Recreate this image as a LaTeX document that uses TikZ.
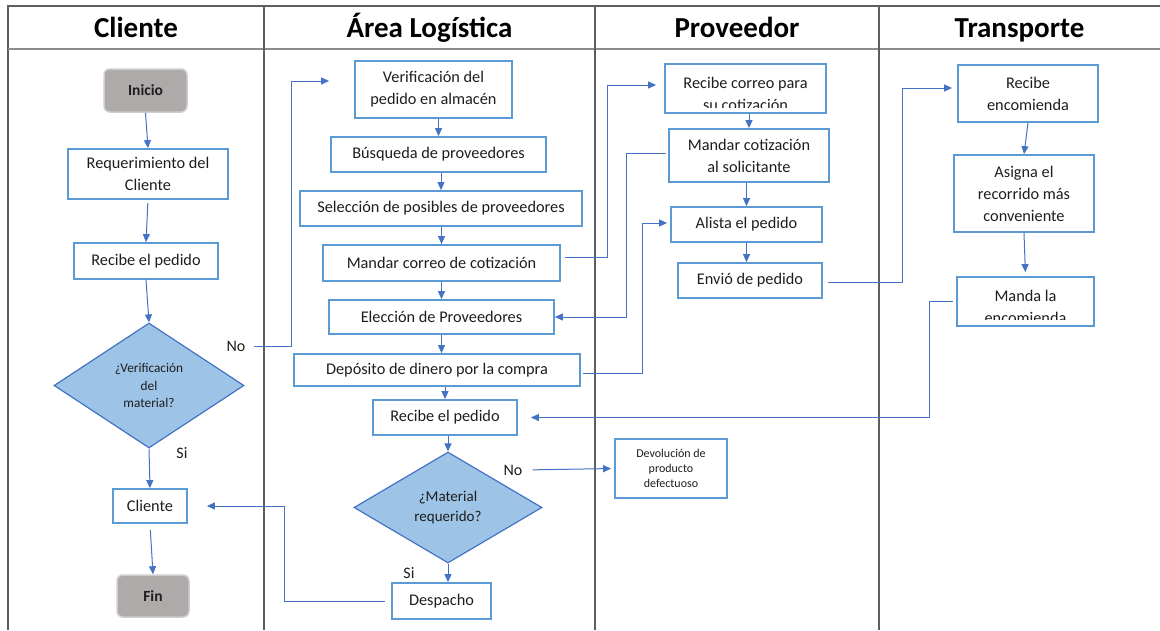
\documentclass[tikz,border=0pt]{standalone}
\usepackage{fontspec}
\setmainfont{Carlito}
\usetikzlibrary{shapes.geometric,arrows.meta}
\definecolor{boxblue}{HTML}{5B9BD5}
\definecolor{lineblue}{HTML}{4472C4}
\definecolor{decfill}{HTML}{9DC3E6}
\definecolor{termfill}{HTML}{AEAAAA}
\definecolor{termline}{HTML}{CFCDCD}
\definecolor{txt}{HTML}{1E1E1E}
\definecolor{rule}{HTML}{5E5E5E}
\definecolor{headrule}{HTML}{8C8C8C}

\begin{document}
\begin{tikzpicture}[x=1pt,y=-1pt,
  font=\fontsize{16.3}{22}\selectfont, text=txt,
  wh/.style 2 args={minimum width=#1pt, minimum height=#2pt},
  box/.style={draw=boxblue, line width=1.8pt, fill=white, align=center, inner sep=0pt},
  term/.style={draw=termline, line width=1.5pt, fill=termfill, rounded corners=6pt,
    font=\fontsize{15.5}{18}\selectfont\bfseries, inner sep=0pt},
  dec/.style={diamond, draw=lineblue, line width=1.2pt, fill=decfill, align=center, inner sep=0pt},
  arr/.style={draw=lineblue, line width=1pt, -{Triangle[length=8pt,width=7pt]}},
  head/.style={font=\fontsize{29}{32}\selectfont\bfseries, text=black, anchor=base, inner sep=0pt},
  lab/.style={font=\fontsize{16}{18}\selectfont, inner sep=0pt},
  cliptext/.style={align=center, inner sep=0pt},
]
\useasboundingbox (0,0) rectangle (1160,630);

% swimlane table
\draw[rule, line width=1.2pt] (1160,6) -- (8,6) -- (8,630);
\draw[headrule, line width=2pt] (8,49) -- (1160,49);
\foreach \xx in {264,595,879} \draw[rule, line width=1.2pt] (\xx,6) -- (\xx,630);

\node[head] (hcli) at (136,37.5) {Cliente};
\node[head] (hlog) at (429.5,37.5) {Área Logística};
\node[head] (hpro) at (737,37.5) {Proveedor};
\node[head] (htra) at (1019.5,37.5) {Transporte};

% Cliente
\node[term, wh={83}{43}] (ini) at (145.5,90.5) {Inicio};
\node[box, wh={160}{50}] (req) at (148,174) {Requerimiento del\\Cliente};
\node[box, wh={144}{36}] (rcl) at (146,261) {Recibe el pedido};
\node[dec, wh={190}{125}, font=\fontsize{13.3}{17.5}\selectfont] (dver) at (149,385.5) {¿Verificación\\del\\material?};
\node[box, wh={74}{34}] (cli) at (150,506) {Cliente};
\node[term, wh={72}{42}] (fin) at (153,596) {Fin};
\node[lab] (no1) at (236,346) {No};
\node[lab] (si1) at (182,453) {Si};

% Área Logística
\node[box, wh={157}{57}] (ver) at (433.5,89.5) {Verificación del\\pedido en almacén};
\node[box, wh={215}{35}] (bus) at (438.5,154.5) {Búsqueda de proveedores};
\node[box, wh={282}{35}] (sel) at (441,208.5) {Selección de posibles de proveedores};
\node[box, wh={237}{36}] (mcc) at (441.5,263) {Mandar correo de cotización};
\node[box, wh={225}{34}] (ele) at (441.5,317) {Elección de Proveedores};
\node[box, wh={286}{32}] (dep) at (437,370) {Depósito de dinero por la compra};
\node[box, wh={144}{35}] (rlo) at (445,417.5) {Recibe el pedido};
\node[dec, wh={188}{111}, font=\fontsize{15}{20}\selectfont] (dmat) at (448,507.5) {¿Material\\requerido?};
\node[box, wh={99}{36}] (des) at (441.5,601) {Despacho};
\node[lab] (no2) at (513,470) {No};
\node[lab] (si2) at (409,573) {Si};

% Proveedor
\node[box, wh={161}{49}] (rcp) at (745.5,88.5) {};
\begin{scope}
  \clip ([xshift=2pt,yshift=-2pt]rcp.north west) rectangle ([xshift=-2pt,yshift=6pt]rcp.south east);
  \node[cliptext] (rcpt) at (745.5,94) {Recibe correo para\\su cotización};
\end{scope}
\node[box, wh={160}{53}] (mco) at (749,155.5) {Mandar cotización\\al solicitante};
\node[box, wh={151}{35}] (ali) at (746.5,224.5) {Alista el pedido};
\node[box, wh={144}{35}] (env) at (750,280.5) {Envió de pedido};
\node[box, wh={112}{59}, font=\fontsize{12}{15}\selectfont] (dev) at (671,468.5) {Devolución de\\producto\\defectuoso};

% Transporte
\node[box, wh={140}{57}] (ren) at (1028,93.5) {Recibe\\encomienda};
\node[box, wh={140}{77}] (asi) at (1024,193.5) {Asigna el\\recorrido más\\conveniente};
\node[box, wh={137}{49}] (man) at (1025.5,301.5) {};
\begin{scope}
  \clip ([xshift=2pt,yshift=-2pt]man.north west) rectangle ([xshift=-2pt,yshift=7pt]man.south east);
  \node[cliptext] (mant) at (1025.5,307) {Manda la\\encomienda};
\end{scope}

% flow inside the lanes
\draw[arr] (ini.south) -- (req.north);
\draw[arr, shorten <=3pt] (req.south) -- (rcl.north);
\draw[arr] (rcl.south) -- (dver.north);
\draw[arr] (dver.south) -- (cli.north);
\draw[arr, shorten <=6pt] (cli.south) -- (fin.north);

\draw[arr] (bus.north |- ver.south) -- (bus.north);
\draw[arr] (sel.north |- bus.south) -- (sel.north);
\draw[arr] (mcc.north |- sel.south) -- (mcc.north);
\draw[arr] (ele.north |- mcc.south) -- (ele.north);
\draw[arr] (ele.south) -- (ele.south |- dep.north);
\draw[arr] (rlo.north |- dep.south) -- (rlo.north);
\draw[arr] (dmat.north |- rlo.south) -- (dmat.north);
\draw[arr] (dmat.south) -- (dmat.south |- des.north);

\draw[arr] (mco.north |- rcp.south) -- (mco.north);
\draw[arr] (ali.north |- mco.south) -- (ali.north);
\draw[arr] (ali.south) -- (ali.south |- env.north);

\draw[arr] (ren.south) -- (asi.north);
\draw[arr, shorten >=4pt] (asi.south) -- (man.north);

% decisions
\draw[arr, shorten <=8pt] (no1.east) -| ([xshift=-63pt,yshift=8.5pt]ver.west) -- ([xshift=-25pt,yshift=8.5pt]ver.west);
\draw[arr, shorten <=10pt, shorten >=3pt] (no2.east) -- (dev.west);
\draw[arr, shorten <=6pt] (des.west) -| ([xshift=97pt]cli.east) -- ([xshift=19pt]cli.east);

% links between the lanes
\draw[arr] ([xshift=4pt,yshift=6pt]mcc.east) -| ([xshift=-57pt,yshift=3.5pt]rcp.west) -- ([xshift=-8pt,yshift=3.5pt]rcp.west);
\draw[arr] ([xshift=-2pt,yshift=2.5pt]mco.west) -| ([xshift=72pt]ele.east) -- (ele.east);
\draw[arr] ([xshift=2pt,yshift=-3pt]dep.east) -| ([xshift=-28pt,yshift=1.5pt]ali.west) -- ([xshift=-3pt,yshift=1.5pt]ali.west);
\draw[arr] ([xshift=5pt,yshift=-1.5pt]env.east) -| ([xshift=-55pt,yshift=5.5pt]ren.west) -- ([xshift=-5pt,yshift=5.5pt]ren.west);
\draw[arr] ([xshift=-3pt]man.west) -| ([xshift=412pt]rlo.east) -- ([xshift=13pt]rlo.east);
\end{tikzpicture}
\end{document}
